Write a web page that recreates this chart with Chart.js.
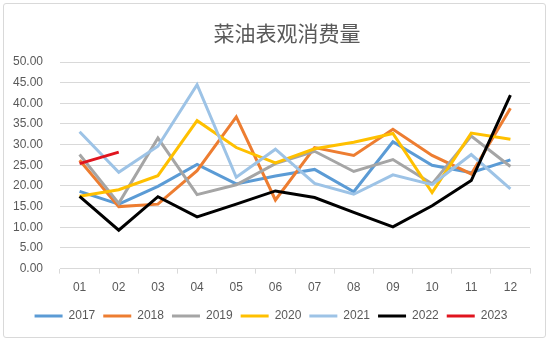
<!DOCTYPE html>
<html>
<head>
<meta charset="utf-8">
<script src="https://cdn.jsdelivr.net/npm/chart.js@4/dist/chart.umd.min.js"></script>
<style>
  html, body { margin: 0; padding: 0; background: #fff; }
  #wrap { position: relative; width: 550px; height: 342px; }
  #frame { position: absolute; left: 3px; top: 3px; width: 541px; height: 333px; border: 1px solid #d9d9d9; border-radius: 3px; }
  #title { position: absolute; left: 187px; width: 200px; top: 18px; text-align: center;
           font: 21px "Noto Sans CJK SC", sans-serif; color: #595959; line-height: 28px; }
  canvas { position: absolute; left: 0; top: 0; }
</style>
</head>
<body>
<div id="wrap">
  <div id="frame"></div>
  <canvas id="chart" width="550" height="342"></canvas>
  <div id="title">菜油表观消费量</div>
</div>
<script>
const months = ['01', '02', '03', '04', '05', '06', '07', '08', '09', '10', '11', '12'];
const years = ['2017', '2018', '2019', '2020', '2021', '2022', '2023'];
const colors = ['#5B9BD5', '#ED7D31', '#A5A5A5', '#FFC000', '#9DC3E6', '#000000', '#E0141E'];

const y2017 = [18.7, 15.6, 19.9, 25.2, 20.5, 22.4, 24.0, 18.6, 30.7, 25.0, 23.2, 26.3];
const y2018 = [26.2, 15.0, 15.6, 23.7, 36.7, 16.6, 29.3, 27.4, 33.7, 27.4, 22.9, 38.8];
const y2019 = [27.6, 15.8, 31.6, 17.9, 20.3, 25.4, 28.4, 23.5, 26.4, 20.5, 32.1, 24.7];
const y2020 = [17.5, 19.1, 22.5, 35.8, 29.3, 25.6, 29.0, 30.6, 32.7, 18.4, 32.8, 31.3];
const y2021 = [33.1, 23.3, 29.6, 44.5, 22.1, 28.9, 20.6, 18.0, 22.7, 20.3, 27.6, 19.3];
const y2022 = [17.5, 9.3, 17.4, 12.5, 15.6, 18.8, 17.2, 13.6, 10.1, 15.2, 21.3, 42.0];
const y2023 = [25.4, 28.2];

const series = [y2017, y2018, y2019, y2020, y2021, y2022, y2023];
const textColor = '#595959';
const gridColor = '#d9d9d9';

const datasets = series.map((values, i) => ({
    label: years[i],
    data: values,
    borderColor: colors[i],
    backgroundColor: colors[i],
    borderWidth: 3,
    pointRadius: 0,
    tension: 0,
    fill: false,
    order: series.length - i
}));

const defaultLabels = Chart.defaults.plugins.legend.labels.generateLabels;

new Chart(document.getElementById('chart').getContext('2d'), {
    type: 'line',
    data: { labels: months, datasets: datasets },
    options: {
        responsive: false,
        animation: false,
        layout: {
            padding: { left: 12, right: 20, top: 62, bottom: 10 }
        },
        plugins: {
            legend: {
                position: 'bottom',
                labels: {
                    color: textColor,
                    font: { family: '"Liberation Sans", sans-serif', size: 12 },
                    boxWidth: 28,
                    boxHeight: 3,
                    padding: 8,
                    sort: (a, b) => a.datasetIndex - b.datasetIndex,
                    generateLabels: (chart) => defaultLabels(chart).map(item => {
                        item.lineWidth = 0;
                        return item;
                    })
                }
            },
            tooltip: { enabled: false }
        },
        scales: {
            x: {
                offset: true,
                grid: {
                    offset: true,
                    drawOnChartArea: false,
                    drawTicks: true,
                    tickLength: 5,
                    color: gridColor
                },
                border: { color: gridColor, width: 1 },
                ticks: {
                    color: textColor,
                    font: { family: '"Liberation Sans", sans-serif', size: 12 },
                    padding: 7,
                    maxRotation: 0
                }
            },
            y: {
                min: 0,
                max: 50,
                afterFit: (scale) => { scale.width = 48; },
                grid: { color: gridColor, drawTicks: false },
                border: { display: false },
                ticks: {
                    stepSize: 5,
                    color: textColor,
                    font: { family: '"Liberation Sans", sans-serif', size: 12 },
                    padding: 17,
                    callback: (v) => v.toFixed(2)
                }
            }
        }
    }
});
</script>
</body>
</html>
